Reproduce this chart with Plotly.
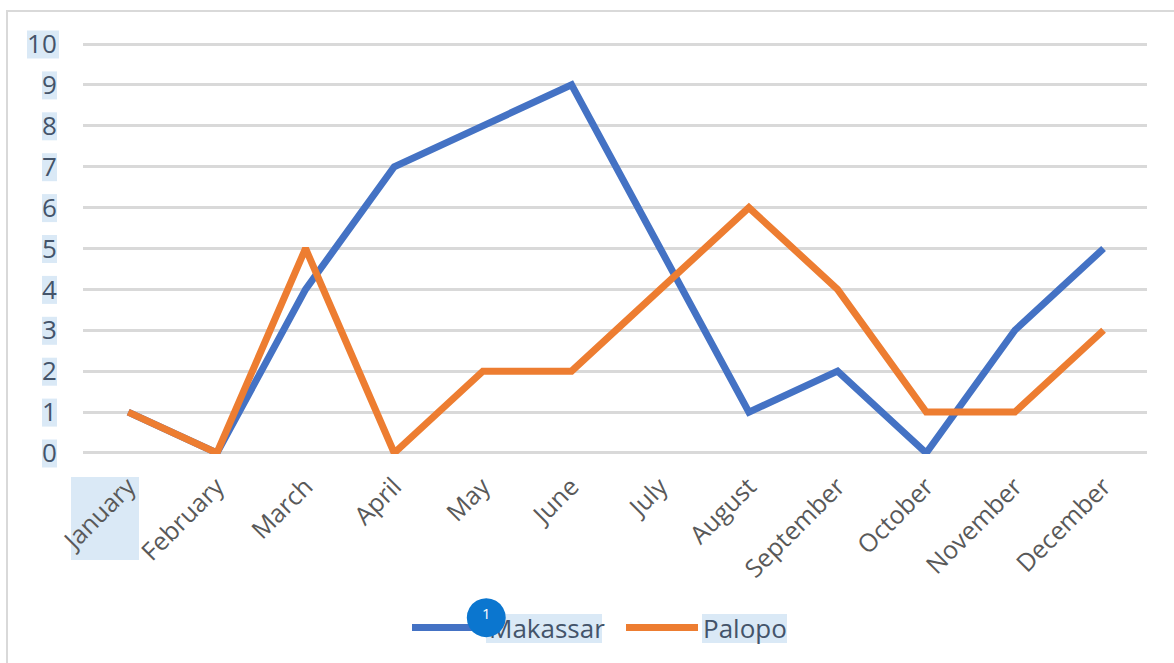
import plotly.graph_objects as go

months = ["January", "February", "March", "April", "May", "June", "July",
          "August", "September", "October", "November", "December"]
makassar = [1, 0, 4, 7, 8, 9, 5, 1, 2, 0, 3, 5]
palopo = [1, 0, 5, 0, 2, 2, 4, 6, 4, 1, 1, 3]
y_ticks = list(range(0, 11))

W, H = 1174, 663
L, R, T, B = 83, 1147, 43, 454
HL = "#DAE9F6"

def px(x): return (x - L) / (R - L)
def py(y): return (B - y) / (B - T)

def rect(x0, y0, x1, y1):
    return dict(type="rect", xref="paper", yref="paper", x0=px(x0), x1=px(x1),
                y0=py(y1), y1=py(y0), fillcolor=HL, line_width=0, layer="below")

shapes = [
    dict(type="rect", xref="paper", yref="paper", x0=px(7), x1=px(1300), y0=py(800), y1=py(11),
         fillcolor="rgba(0,0,0,0)", line=dict(color="#D9D9D9", width=2), layer="below"),
    rect(71, 477, 139, 560),
    rect(486, 614, 602, 643),
    rect(702, 614, 787, 643),
]
for v in y_ticks:
    yc = 44.5 + (10 - v) * 40.9
    x0, x1 = (27, 59) if v == 10 else (42, 57)
    shapes.append(rect(x0, yc - 14, x1, yc + 14))

fig = go.Figure()
fig.add_trace(go.Scatter(x=months, y=makassar, name="Makassar", mode="lines", cliponaxis=False,
                         line=dict(color="#4472C4", width=7, shape="linear")))
fig.add_trace(go.Scatter(x=months, y=palopo, name="Palopo", mode="lines", cliponaxis=False,
                         line=dict(color="#ED7D31", width=7, shape="linear")))

fig.update_layout(
    width=W, height=H, autosize=False,
    margin=dict(l=L, r=W - R, t=T, b=H - B),
    paper_bgcolor="white", plot_bgcolor="rgba(0,0,0,0)",
    font=dict(family="Open Sans", color="#44546A", size=24),
    shapes=shapes,
    xaxis=dict(type="category", categoryorder="array", categoryarray=months,
               range=[-0.51, 11.49], showgrid=False, zeroline=False, showline=False,
               tickangle=-45, ticks="outside", ticklen=7, tickcolor="rgba(0,0,0,0)",
               tickfont=dict(size=25, color="#595959", family="Open Sans"), automargin=False),
    yaxis=dict(range=[-0.025, 10.025], tickvals=y_ticks, gridcolor="#D9D9D9", gridwidth=2.5,
               zeroline=False, showline=False, ticks="outside", ticklen=20,
               tickcolor="rgba(0,0,0,0)", tickfont=dict(size=26, color="#44546A", family="Open Sans"),
               automargin=False),
    showlegend=True,
    legend=dict(orientation="h", xref="paper", yref="paper", x=px(407), y=py(604),
                xanchor="left", yanchor="top", bgcolor="rgba(0,0,0,0)",
                font=dict(size=26, color="#44546A", family="Open Sans"),
                itemwidth=72, entrywidth=127, entrywidthmode="pixels", tracegroupgap=0),
    annotations=[
        dict(xref="paper", yref="paper", x=px(486), y=py(613), text="●", showarrow=False,
             yanchor="middle", xanchor="center",
             font=dict(size=51, color="#0B76CF", family="DejaVu Sans")),
        dict(xref="paper", yref="paper", x=px(486), y=py(613), text="1", showarrow=False,
             yanchor="middle", xanchor="center",
             font=dict(size=15, color="white", family="Open Sans")),
    ],
)

fig.write_html("out.html", config=dict(displayModeBar=False),
               post_script="document.body.style.margin='0';document.body.style.overflow='hidden';")
